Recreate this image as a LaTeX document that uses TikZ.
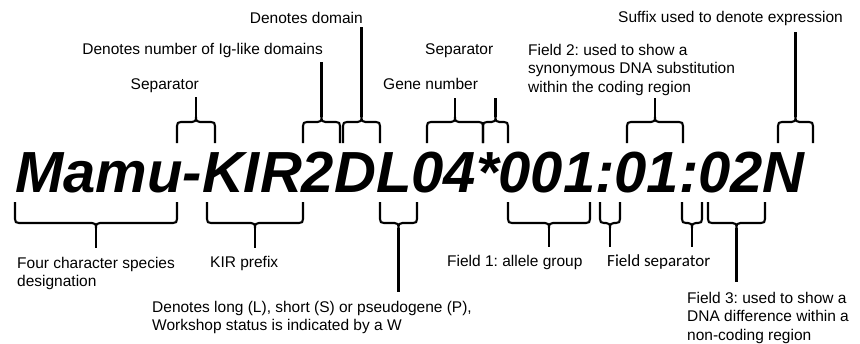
\documentclass[tikz,border=0pt]{standalone}
\usepackage{fontspec}
\setmainfont{Liberation Sans}
\newfontfamily\calibfont{Carlito}
\usetikzlibrary{calc}
\frenchspacing
\tikzset{
  brc/.style={line width=2.1pt, line join=round},
  lbl/.style={font=\fontsize{15.5}{18.5}\selectfont, inner sep=0pt, align=left},
  sepLbl/.style={font=\calibfont\fontsize{17}{19}\selectfont, inner sep=0pt},
  allele/.style={font=\fontsize{58}{60}\selectfont\bfseries\itshape, inner sep=0pt},
}

\begin{document}
\begin{tikzpicture}[x=1pt, y=-1pt]
  \useasboundingbox (0,0) rectangle (860,343);
  \node[allele, anchor=base west] (allele) at (15,192) {Mamu-KIR2DL04*001:01:02N};

  \foreach \a/\b/\t [count=\i] in {177/215/97, 303/340/62, 343/380/27, 427/483/98,
      483/508/98, 627/683/98, 778/813/32} {
    \pgfmathsetmacro\mx{(\a+\b)/2}
    \draw[brc] (\a,143) -- (\a,126) .. controls (\a,123) and (\a+1,122) .. (\a+4,122)
      -- (\mx-4,122) .. controls (\mx-1,122) and (\mx,121) .. (\mx,117)
      .. controls (\mx,121) and (\mx+1,122) .. (\mx+4,122) -- (\b-4,122)
      .. controls (\b-1,122) and (\b,123) .. (\b,126) -- (\b,143);
    \draw[brc] (\mx,117) -- (\mx,\t) coordinate (up\i);
  }
  \foreach \a/\b/\t [count=\i] in {15/177/248, 207/303/248, 380/417/292, 508/590/247,
      600/620/247, 682/702/247, 708/765/282} {
    \pgfmathsetmacro\mx{(\a+\b)/2}
    \draw[brc] (\a,202) -- (\a,219) .. controls (\a,222) and (\a+1,223) .. (\a+4,223)
      -- (\mx-4,223) .. controls (\mx-1,223) and (\mx,224) .. (\mx,228)
      .. controls (\mx,224) and (\mx+1,223) .. (\mx+4,223) -- (\b-4,223)
      .. controls (\b-1,223) and (\b,222) .. (\b,219) -- (\b,202);
    \draw[brc] (\mx,228) -- (\mx,\t) coordinate (dn\i);
  }

  \node[lbl, anchor=mid east] (sepA) at (199,86.5) {Separator};
  \node[lbl, anchor=mid east] (igDom) at (323,51.5) {Denotes number of Ig-like domains};
  \node[lbl, anchor=mid east] (domain) at (363,20.5) {Denotes domain};
  \node[lbl, anchor=mid west] (gene) at (383,86.5) {Gene number};
  \node[lbl, anchor=mid west] (sepB) at (425,51.5) {Separator};
  \node[lbl, anchor=north west] (field2) at (528,44)
    {Field 2: used to show a\\synonymous DNA substitution\\within the coding region};
  \node[lbl, anchor=mid west] (suffix) at (618,19.5) {Suffix used to denote expression};

  \node[lbl, anchor=north west] (species) at (17,257) {Four character species\\designation};
  \node[lbl, anchor=mid west] (prefix) at (210,264.5) {KIR prefix};
  \node[lbl, anchor=north west] (length) at (152,301)
    {Denotes long (L), short (S) or pseudogene (P),\\Workshop status is indicated by a W};
  \node[lbl, anchor=mid west] (field1) at (447,263.5) {Field 1: allele group};
  \node[sepLbl, anchor=mid west] (fieldSep) at (607,263.5) {Field separator};
  \node[lbl, anchor=north west] (field3) at (687,292)
    {Field 3: used to show a\\DNA difference within a\\non-coding region};
\end{tikzpicture}
\end{document}
